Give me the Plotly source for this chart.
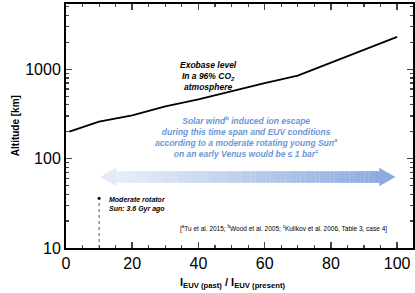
import plotly.graph_objects as go
import numpy as np

# Exobase altitude vs EUV enhancement
euv_ratio = [1, 10, 20, 30, 40, 50, 60, 70, 80, 90, 100]
exobase_km = [200, 260, 305, 385, 460, 570, 700, 850, 1180, 1650, 2300]

# Moderate rotator marker
rotator_x = [10, 10]
rotator_y = [10, 36]

x_ticks = [0, 20, 40, 60, 80, 100]
y_ticks = [10, 100, 1000]
y_tick_labels = ["10", "100", "1000"]

FONT = "Liberation Sans, Arial, Helvetica, sans-serif"

fig = go.Figure()

# gradient double arrow (paper y, data x)
ax0, ax1 = 10.3, 99.5
head = 4.8
yc, hb, hh = 0.291, 0.024, 0.038
c_left = np.array([232, 238, 249])
c_right = np.array([140, 172, 224])
n = 70
xs = np.linspace(ax0 + head, ax1 - head, n + 1)
shapes = []
for i in range(n):
    t = i / (n - 1)
    c = (c_left * (1 - t) + c_right * t).astype(int)
    col = f"rgb({c[0]},{c[1]},{c[2]})"
    shapes.append(dict(type="rect", xref="x", yref="paper",
                       x0=xs[i], x1=xs[i + 1] + 0.05, y0=yc - hb, y1=yc + hb,
                       fillcolor=col, line=dict(width=0), layer="below"))
shapes.append(dict(type="path", xref="x", yref="paper",
                   path=f"M {ax0+head+0.1},{yc-hh} L {ax0},{yc} L {ax0+head+0.1},{yc+hh} Z",
                   fillcolor="rgb(228,235,248)", line=dict(width=0), layer="below"))
shapes.append(dict(type="path", xref="x", yref="paper",
                   path=f"M {ax1-head-0.1},{yc-hh} L {ax1},{yc} L {ax1-head-0.1},{yc+hh} Z",
                   fillcolor="rgb(140,172,224)", line=dict(width=0), layer="below"))

fig.add_trace(go.Scatter(x=euv_ratio, y=exobase_km, mode="lines",
                         line=dict(color="black", width=1.8), showlegend=False))
fig.add_trace(go.Scatter(x=rotator_x, y=rotator_y, mode="lines",
                         line=dict(color="#555555", width=1, dash="dot"), showlegend=False))
fig.add_trace(go.Scatter(x=[rotator_x[1]], y=[rotator_y[1]], mode="markers",
                         marker=dict(color="black", size=3), showlegend=False))

annotations = [
    dict(x=43, y=np.log10(830), xref="x", yref="y",
         text="<b><i>Exobase level<br>In a 96% CO<sub>2</sub><br>atmosphere</i></b>",
         showarrow=False, font=dict(family=FONT, size=8.5, color="black"), align="center"),
    dict(x=54.5, y=np.log10(175), xref="x", yref="y",
         text="<b><i>Solar wind<sup>b</sup> induced ion escape<br>during this time span and EUV conditions<br>"
              "according to a moderate rotating young Sun<sup>a</sup><br>on an early Venus would be ≤ 1 bar<sup>c</sup></i></b>",
         showarrow=False, font=dict(family=FONT, size=8.5, color="#6b96d9"), align="center"),
    dict(x=12.5, y=np.log10(31), xref="x", yref="y", xanchor="left",
         text="<b><i>Moderate rotator<br>Sun: 3.6 Gyr ago</i></b>",
         showarrow=False, font=dict(family=FONT, size=7, color="black"), align="left"),
    dict(x=97.5, y=np.log10(16.5), xref="x", yref="y", xanchor="right",
         text="[<sup>a</sup>Tu et al. 2015; <sup>b</sup>Wood et al. 2005; <sup>c</sup>Kulikov et al. 2006, Table 3, case 4]",
         showarrow=False, font=dict(family=FONT, size=6.5, color="black")),
    dict(x=0.48, y=-0.143, xref="paper", yref="paper", yanchor="middle",
         text="<b>I<sub>EUV (past)</sub> / I<sub>EUV (present)</sub></b>",
         showarrow=False, font=dict(family=FONT, size=11, color="black")),
    dict(x=-0.168, y=0.5, xref="paper", yref="paper", textangle=-90,
         text="<b>Altitude [km]</b>",
         showarrow=False, font=dict(family=FONT, size=10, color="black")),
]

fig.update_layout(
    width=415, height=293,
    margin=dict(l=66, r=2, t=4, b=45, autoexpand=False),
    paper_bgcolor="white", plot_bgcolor="white",
    shapes=shapes, annotations=annotations,
    font=dict(family=FONT, color="black"),
    xaxis=dict(range=[0, 104.8], tickvals=x_ticks, ticks="inside", ticklen=6, tickwidth=1.5,
               showline=True, linewidth=2, linecolor="black", mirror="ticks",
               showgrid=False, zeroline=False, tickfont=dict(size=16, family=FONT),
               automargin=False,
               minor=dict(dtick=5, tick0=0, ticks="inside", ticklen=3, tickwidth=1.2, showgrid=False)),
    yaxis=dict(type="log", range=[1, 3.73], tickvals=y_ticks, ticktext=y_tick_labels,
               ticks="inside", ticklen=6, tickwidth=1.5,
               showline=True, linewidth=2, linecolor="black", mirror="ticks",
               showgrid=False, zeroline=False, tickfont=dict(size=16, family=FONT),
               automargin=False,
               minor=dict(tickvals=[v * m for v in [10, 100, 1000] for m in range(2, 10)],
                          ticks="inside", ticklen=3, tickwidth=1.2, showgrid=False)),
)

fig.write_html("out.html", config={"displayModeBar": False, "staticPlot": True},
               post_script="document.body.style.margin='0';document.body.style.overflow='hidden';")
